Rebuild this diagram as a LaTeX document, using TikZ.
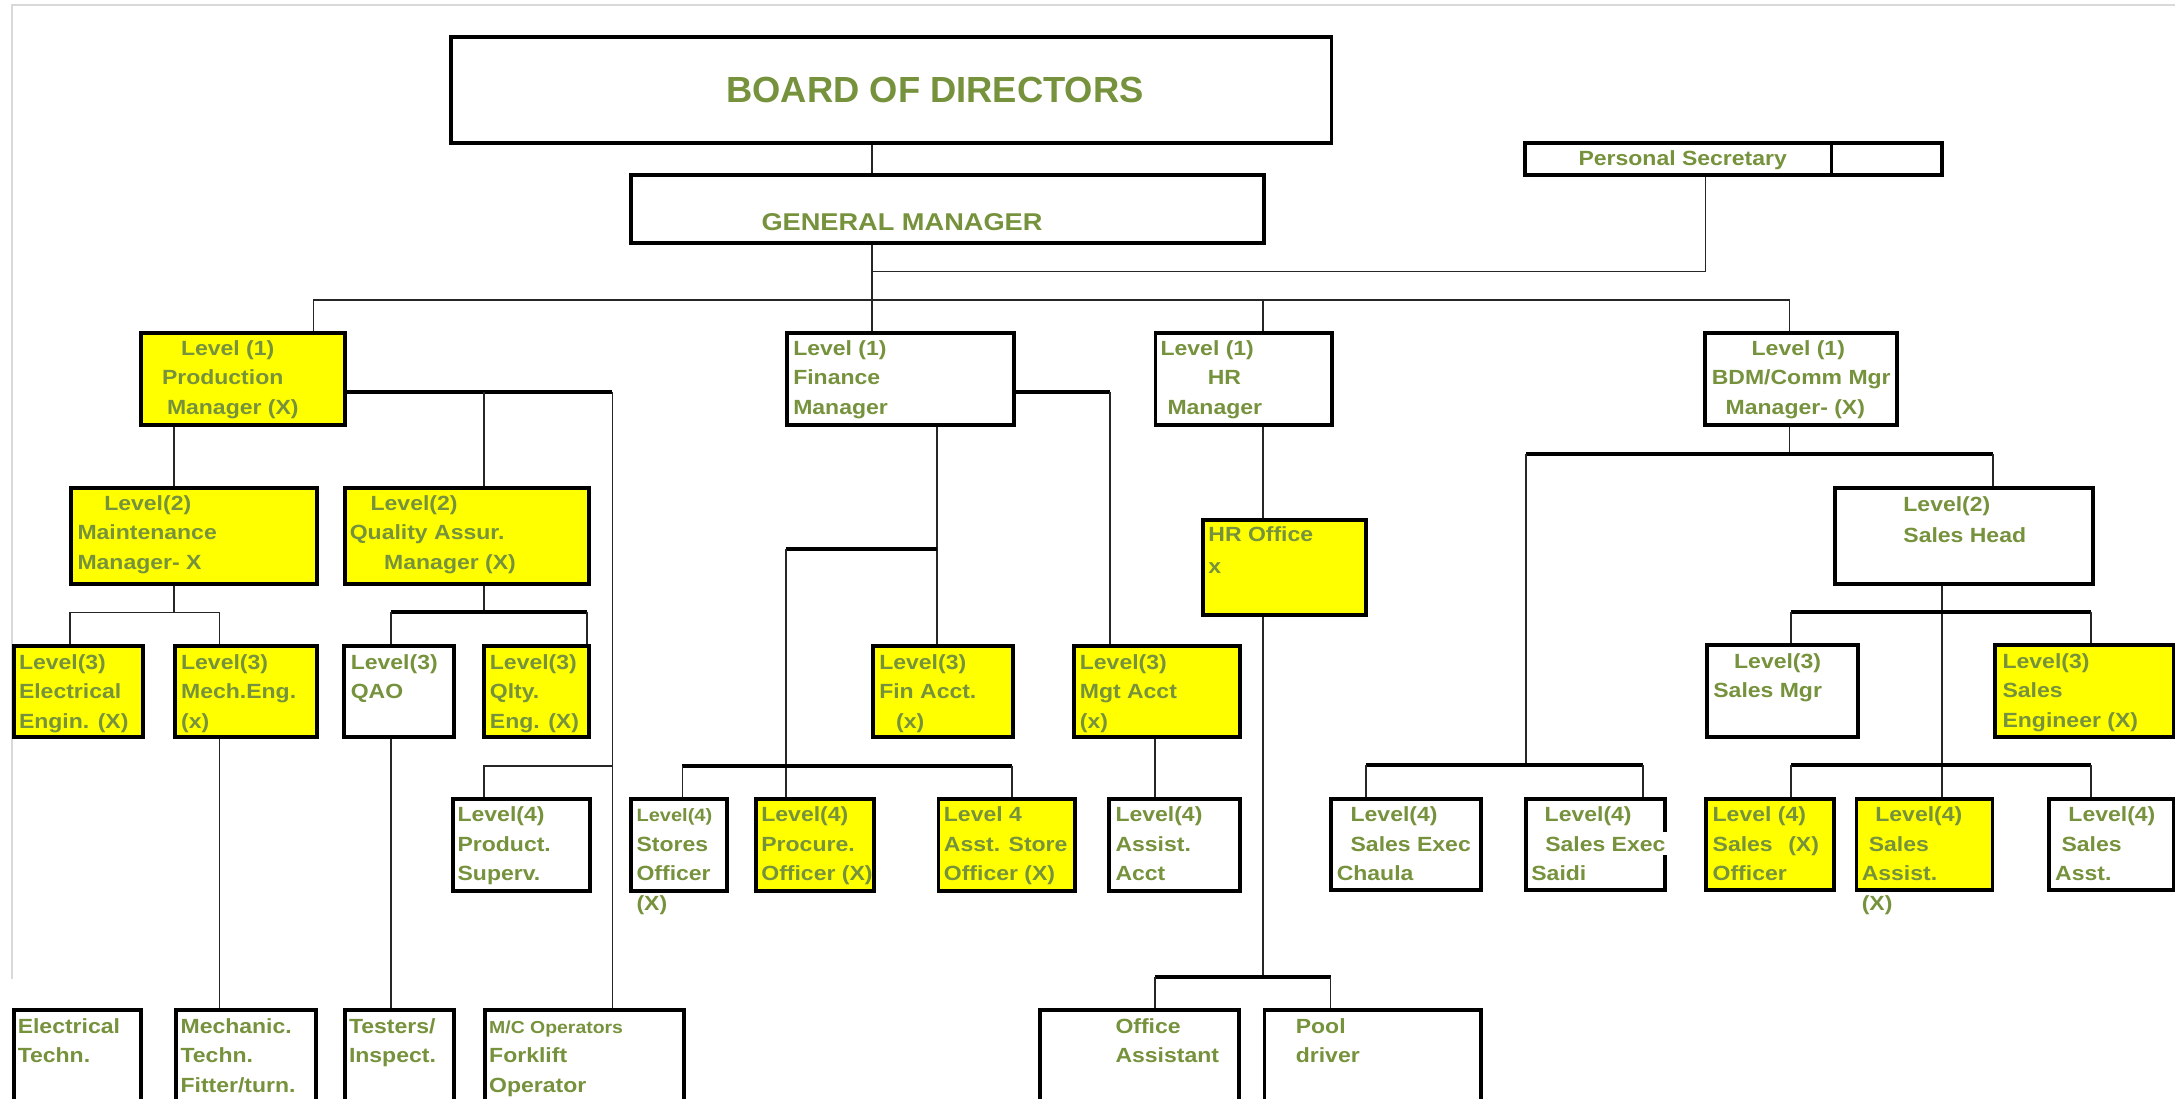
\documentclass[tikz,border=0pt]{standalone}
\usepackage{fontspec}
\setmainfont{Liberation Sans}
\newfontfamily\widefont[FakeStretch=1.12]{Liberation Sans}
\definecolor{tg}{RGB}{118,146,60}
\definecolor{ybox}{RGB}{255,255,0}
\tikzset{
  wbox/.style={draw=black, line width=2.8pt, fill=white, inner sep=0pt, anchor=north west},
  yellowbox/.style={wbox, fill=ybox},
  txt/.style={anchor=base west, inner sep=0pt, text=tg, align=left,
    font=\widefont\bfseries\fontsize{14.8}{21.3}\selectfont},
  tline/.style={draw=black!85, line width=1.3pt},
  kline/.style={draw=black, line width=2.8pt},
}
\newcommand\obox[6]{\node[#1, minimum width={#4-#2}, minimum height={#5-#3}] (#6) at (#2,#3) {};}
\begin{document}
\begin{tikzpicture}[x=1pt,y=-1pt]
\useasboundingbox (0,0) rectangle (1568,792);
\clip (0,0) rectangle (1568,792);
% page edge
\draw[draw=black!15, line width=1.4pt] (8.6,706) -- (8.6,3.6) -- (1568,3.6);

% ---------- junction coordinates ----------
\coordinate (c0) at (628.7,216);
\coordinate (c1) at (628.7,195.7);
\coordinate (c2) at (1229.5,195.7);
\coordinate (b1) at (226,216);
\coordinate (b2) at (1290,216);
\coordinate (b3) at (910.7,216);
\coordinate (p1) at (441.5,282.4);
\coordinate (p2) at (349,282.4);
\coordinate (p3) at (125.5,441.5);
\coordinate (m1) at (50.5,441.5);
\coordinate (m2) at (158.3,441.5);
\coordinate (q0) at (349,441.5);
\coordinate (q1) at (281.7,441.5);
\coordinate (q2) at (423.2,441.5);
\coordinate (p4) at (441.5,552.5);
\coordinate (p5) at (349,552.5);
\coordinate (f1) at (675.3,396);
\coordinate (f2) at (566.4,396);
\coordinate (f3) at (800,282.4);
\coordinate (f4) at (492,552);
\coordinate (f5) at (729.8,552);
\coordinate (f6) at (832.8,552);
\coordinate (h1) at (910.7,704.6);
\coordinate (h2) at (832.8,704.6);
\coordinate (h3) at (959.2,704.6);
\coordinate (s0) at (1290,327.6);
\coordinate (s1) at (1099.9,327.6);
\coordinate (s2) at (1436.6,327.6);
\coordinate (s3) at (1099.9,551.5);
\coordinate (s4) at (984.5,551.5);
\coordinate (s5) at (1184.7,551.5);
\coordinate (s6) at (1400.1,441.5);
\coordinate (s7) at (1291,441.5);
\coordinate (s8) at (1507.6,441.5);
\coordinate (s9) at (1291,551.5);
\coordinate (s10) at (1507.6,551.5);
\coordinate (dv) at (1320.4,110);

% ---------- boxes ----------
\obox{wbox}{324}{25.5}{958.5}{102}{bod}
\obox{wbox}{453.7}{124.5}{910}{174}{gm}
\obox{wbox}{1098}{101.5}{1398.5}{125}{sec}
\obox{yellowbox}{100.3}{238.5}{247.5}{305}{prod}
\obox{wbox}{566}{238.5}{729.8}{305}{fin}
\obox{wbox}{831.6}{238.5}{958.7}{305}{hr}
\obox{wbox}{1228}{238.5}{1366.4}{305}{bdm}
\obox{yellowbox}{50}{350.2}{226.9}{419.4}{maint}
\obox{yellowbox}{247}{350.2}{423.2}{419.4}{qa}
\obox{yellowbox}{866}{373.7}{983.3}{441.7}{hroff}
\obox{wbox}{1321.5}{350.4}{1507.5}{419.4}{shead}
\obox{yellowbox}{9}{464.5}{101.4}{529.8}{elec}
\obox{yellowbox}{124.9}{464.5}{226.9}{529.8}{mech}
\obox{wbox}{246.9}{464.5}{325.7}{529.8}{qao}
\obox{yellowbox}{347.6}{464.5}{423.2}{529.8}{qlty}
\obox{yellowbox}{628.2}{464.5}{729}{529.8}{finacct}
\obox{yellowbox}{772.8}{464.5}{892.4}{529.8}{mgt}
\obox{wbox}{1229}{463.8}{1338}{530}{smgr}
\obox{yellowbox}{1436.6}{463.8}{1565.5}{530}{seng}
\obox{wbox}{325.2}{574.4}{423.8}{641}{psup}
\obox{wbox}{453.7}{574.4}{522.5}{641}{stores}
\obox{yellowbox}{543.7}{574.4}{628.7}{641}{procure}
\obox{yellowbox}{675.2}{574.4}{773.8}{641}{astore}
\obox{wbox}{798.2}{574.4}{892.5}{641}{aacct}
\obox{wbox}{958.2}{574.4}{1066.4}{640.4}{chaula}
\obox{wbox}{1098.7}{574.4}{1198.8}{640.4}{saidi}
\obox{yellowbox}{1228.5}{574.4}{1321}{640.4}{soff}
\obox{yellowbox}{1337}{574.4}{1435}{640.4}{sassist}
\obox{wbox}{1476}{574.4}{1565.5}{640.4}{sasst}
\obox{wbox}{8.5}{727}{100.5}{793.5}{etech}
\obox{wbox}{125.4}{727}{226.1}{793.5}{mtech}
\obox{wbox}{247.3}{727}{326.2}{793.5}{testers}
\obox{wbox}{348}{727}{491.6}{793.5}{mcop}
\obox{wbox}{748.3}{727}{891.5}{793.5}{offasst}
\obox{wbox}{910.2}{727}{1066}{793.5}{pool}
\draw[line width=2.2pt] (sec.north -| dv) -- (sec.south -| dv);

% ---------- connectors ----------
\draw[tline] (bod.south -| c0) -- (gm.north -| c0);
\draw[tline] (gm.south -| c0) -- (c0);
\draw[tline] (c1) -- (c2) -- (sec.south -| c2);
\draw[tline] (prod.north -| b1) -- (b1) -- (b2) -- (bdm.north -| b2);
\draw[tline] (c0) -- (fin.north -| c0);
\draw[tline] (b3) -- (hr.north -| b3);
% production
\draw[kline] (prod.east |- p1) -- (p1);
\draw[tline] (p1) -- (mcop.north -| p1);
\draw[tline] (p2) -- (qa.north -| p2);
\draw[tline] (prod.south -| p3) -- (maint.north -| p3);
\draw[tline] (maint.south -| p3) -- (p3);
\draw[tline] (elec.north -| m1) -- (m1) -- (m2) -- (mech.north -| m2);
\draw[tline] (qa.south -| q0) -- (q0);
\draw[kline] (q1) -- (q2);
\draw[tline] (q1) -- (qao.north -| q1);
\draw[tline] (q2) -- (qlty.north -| q2);
\draw[tline] (mech.south -| m2) -- (mtech.north -| m2);
\draw[tline] (qao.south -| q1) -- (testers.north -| q1);
\draw[tline] (p4) -- (p5) -- (psup.north -| p5);
% finance
\draw[tline] (fin.south -| f1) -- (finacct.north -| f1);
\draw[kline] (f1) -- (f2);
\draw[tline] (f2) -- (procure.north -| f2);
\draw[kline] (fin.east |- f3) -- (f3);
\draw[tline] (f3) -- (mgt.north -| f3);
\draw[kline] (f4) -- (f5);
\draw[tline] (f4) -- (stores.north -| f4);
\draw[tline] (f5) -- (astore.north -| f5);
\draw[tline] (mgt.south -| f6) -- (aacct.north -| f6);
% hr
\draw[tline] (hr.south -| b3) -- (hroff.north -| b3);
\draw[tline] (hroff.south -| h1) -- (h1);
\draw[kline] (h2) -- (h3);
\draw[tline] (h2) -- (offasst.north -| h2);
\draw[tline] (h3) -- (pool.north -| h3);
% bdm / sales
\draw[tline] (bdm.south -| s0) -- (s0);
\draw[kline] (s1) -- (s2);
\draw[tline] (s2) -- (shead.north -| s2);
\draw[tline] (s1) -- (s3);
\draw[kline] (s4) -- (s5);
\draw[tline] (s4) -- (chaula.north -| s4);
\draw[tline] (s5) -- (saidi.north -| s5);
\draw[tline] (shead.south -| s6) -- (sassist.north -| s6);
\draw[kline] (s7) -- (s8);
\draw[tline] (s7) -- (smgr.north -| s7);
\draw[tline] (s8) -- (seng.north -| s8);
\draw[kline] (s9) -- (s10);
\draw[tline] (s9) -- (soff.north -| s9);
\draw[tline] (s10) -- (sasst.north -| s10);

% ---------- texts (anchor = baseline of the LAST line) ----------
\node[txt, font=\bfseries\fontsize{26.2}{30}\selectfont] (bodT) at (523.5,74) {BOARD OF DIRECTORS};
\node[txt, font=\widefont\bfseries\fontsize{17.5}{21}\selectfont] (gmT) at (548.8,166.3) {GENERAL MANAGER};
\node[txt] (secT) at (1137.8,119) {Personal Secretary};
\node[txt] (prodT) at (116.6,298.6) {\hspace*{13.7pt}Level (1)\\Production\\\hspace*{3.6pt}Manager (X)};
\node[txt] (finT) at (571.7,298.6) {Level (1)\\Finance\\Manager};
\node[txt] (hrT) at (836.5,298.6) {Level (1)\\\hspace*{34pt}HR\\\hspace*{5pt}Manager};
\node[txt] (bdmT) at (1233.9,298.6) {\hspace*{28.7pt}Level (1)\\BDM/Comm Mgr\\\hspace*{10pt}Manager- (X)};
\node[txt] (maintT) at (55.7,410.3) {\hspace*{19.3pt}Level(2)\\Maintenance\\Manager- X};
\node[txt] (qaT) at (252,410.3) {\hspace*{15pt}Level(2)\\Quality Assur.\\\hspace*{24.8pt}Manager (X)};
\node[txt, font=\widefont\bfseries\fontsize{14.8}{23.3}\selectfont] (hroffT) at (871,413.8) {HR Office\\x};
\node[txt, font=\widefont\bfseries\fontsize{14.8}{22.8}\selectfont] (sheadT) at (1372,391.2) {Level(2)\\Sales Head};
\node[txt] (elecT) at (13.5,524.9) {Level(3)\\Electrical\\Engin. (X)};
\node[txt] (mechT) at (130.4,524.9) {Level(3)\\Mech.Eng.\\(x)};
\node[txt] (qaoT) at (252.7,503.6) {Level(3)\\QAO};
\node[txt] (qltyT) at (353,524.9) {Level(3)\\Qlty.\\Eng. (X)};
\node[txt] (finacctT) at (633.7,524.9) {Level(3)\\Fin Acct.\\\hspace*{12.2pt}(x)};
\node[txt] (mgtT) at (778.3,524.9) {Level(3)\\Mgt Acct\\(x)};
\node[txt] (smgrT) at (1235,502.9) {\hspace*{15pt}Level(3)\\Sales Mgr};
\node[txt] (sengT) at (1443.5,524.2) {Level(3)\\Sales\\Engineer (X)};
\node[txt] (psupT) at (329.7,634.8) {Level(4)\\Product.\\Superv.};
\node[txt] (storesT) at (458.7,656.1) {{\fontsize{12.9}{21.3}\selectfont Level(4)}\\Stores\\Officer\\(X)};
\node[txt] (procureT) at (548.7,634.8) {Level(4)\\Procure.\\Officer (X)};
\node[txt] (astoreT) at (680.3,634.8) {Level 4\\Asst. Store\\Officer (X)};
\node[txt] (aacctT) at (804,634.8) {Level(4)\\Assist.\\Acct};
\node[txt] (chaulaT) at (963.5,634.8) {\hspace*{10pt}Level(4)\\\hspace*{10pt}Sales Exec\\Chaula};
\node[txt] (saidiT) at (1103.8,634.8) {\hspace*{9.6pt}Level(4)\\\hspace*{7pt}{\fboxsep=3pt\colorbox{white}{Sales Exec}}\\Saidi};
\node[txt] (soffT) at (1234.5,634.8) {Level (4)\\\makebox[54.5pt][l]{Sales}(X)\\Officer};
\node[txt] (sassistT) at (1342,656.1) {\hspace*{9.8pt}Level(4)\\\hspace*{5pt}Sales\\Assist.\\(X)};
\node[txt] (sasstT) at (1481.4,634.8) {\hspace*{9.6pt}Level(4)\\\hspace*{4.6pt}Sales\\Asst.};
\node[txt] (etechT) at (12.6,766.3) {Electrical\\Techn.};
\node[txt] (mtechT) at (130,787.6) {Mechanic.\\Techn.\\Fitter/turn.};
\node[txt] (testersT) at (251.4,766.3) {Testers/\\Inspect.};
\node[txt] (mcopT) at (352.5,787.6) {{\fontsize{12.5}{21.3}\selectfont M/C Operators}\\Forklift\\Operator};
\node[txt] (offasstT) at (804,766.3) {Office\\Assistant};
\node[txt] (poolT) at (934,766.3) {Pool\\driver};
\end{tikzpicture}
\end{document}
